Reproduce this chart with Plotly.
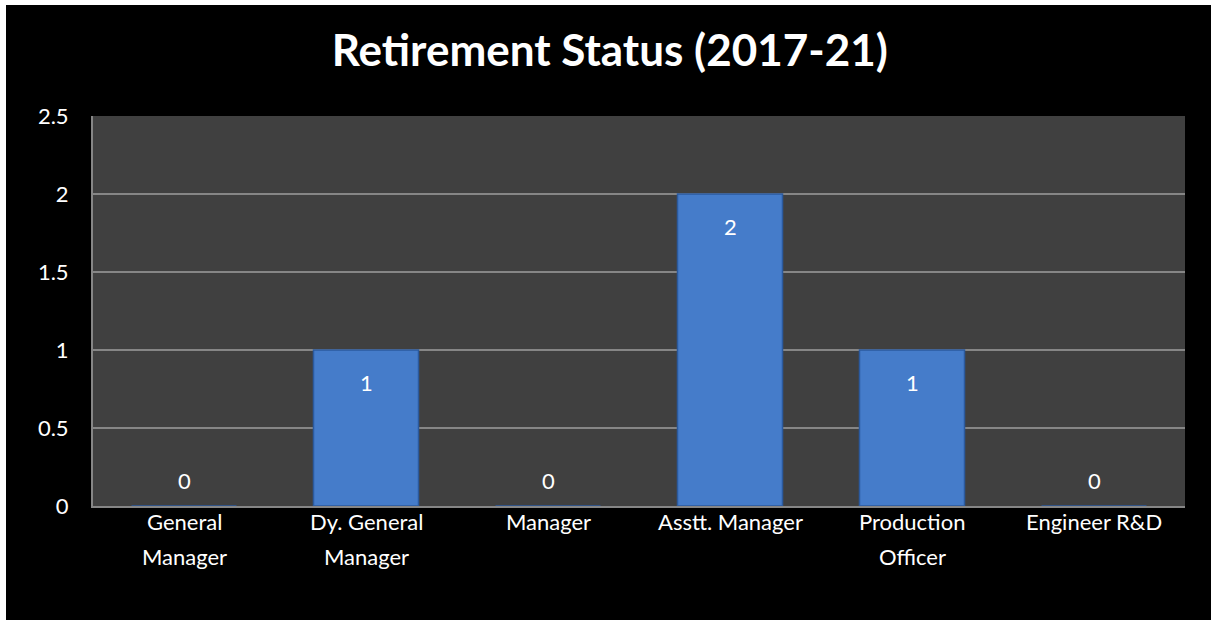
import plotly.graph_objects as go

categories = ["General<br>Manager", "Dy. General<br>Manager", "Manager",
              "Asstt. Manager", "Production<br>Officer", "Engineer R&D"]
values = [0, 1, 0, 2, 1, 0]
y_ticks = [0, 0.5, 1, 1.5, 2, 2.5]
y_tick_labels = ["0", "0.5", "1", "1.5", "2", "2.5"]
title_text = "Retirement Status (2017-21)"

FONT = "Lato, 'Open Sans', sans-serif"

fig = go.Figure()
fig.add_trace(go.Bar(
    x=categories, y=values,
    marker=dict(color="#457cca", line=dict(color="#2b5a9e", width=1.5)),
    hoverinfo="skip",
))

for c, v in zip(categories, values):
    fig.add_annotation(x=c, y=v, text=str(v), showarrow=False,
                       yshift=-32 if v > 0 else 26,
                       font=dict(family=FONT, size=22, color="white"))

# category labels as annotations (to match line spacing)
for c in categories:
    for i, line in enumerate(c.split("<br>")):
        fig.add_annotation(x=c, y=0, text=line, showarrow=False,
                           yanchor="middle", yshift=-15 - 35 * i,
                           font=dict(family=FONT, size=22, color="white"))

fig.update_layout(
    width=1211, height=620,
    paper_bgcolor="black", plot_bgcolor="#404040",
    margin=dict(l=93, r=26, t=116, b=114),
    bargap=0.423,
    showlegend=False,
    title=dict(text="<b>" + title_text + "</b>", x=0.5035, xanchor="center",
               y=0.918, yanchor="middle",
               font=dict(family=FONT, size=44, color="white")),
    xaxis=dict(showgrid=False, showline=True, linecolor="#868686", linewidth=2,
               showticklabels=False, ticks="", fixedrange=True),
    yaxis=dict(range=[0, 2.5], tickvals=y_ticks, ticktext=y_tick_labels,
               showgrid=True, gridcolor="#868686", gridwidth=1.5,
               showline=True, linecolor="#868686", linewidth=2,
               zeroline=False, ticks="", ticklabelstandoff=18,
               tickfont=dict(family=FONT, size=22, color="white"),
               fixedrange=True),
    shapes=[
        dict(type="rect", xref="paper", yref="paper", layer="above",
             x0=-0.09, x1=(6 - 93) / 1092, y0=-0.4, y1=1.4,
             fillcolor="white", line=dict(width=0)),
        dict(type="rect", xref="paper", yref="paper", layer="above",
             x0=-0.09, x1=1.03, y0=(506 - 5) / 390, y1=1.4,
             fillcolor="white", line=dict(width=0)),
    ],
)

fig.write_html("out.html",
               config={"displayModeBar": False, "staticPlot": True},
               post_script="document.body.style.margin='0';"
                           "document.body.style.overflow='hidden';")
